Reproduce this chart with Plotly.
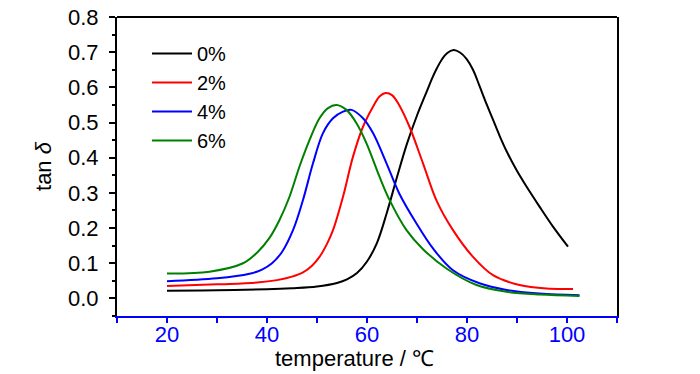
import plotly.graph_objects as go

# ---- data ----
series_names = ["0%", "2%", "4%", "6%"]
series_colors = ["#000000", "#ff0000", "#0000ff", "#008000"]

t_0 = [20, 30, 40, 45, 50, 54, 56, 58, 60, 62, 64, 66, 68, 70, 72, 73, 74, 75, 76, 77.3, 78.6,
       79.9, 81.2, 82.5, 83.9, 85.2, 86.5, 87.9, 89.9, 91.9, 94.5, 97.2, 100.2]
v_0 = [0.022, 0.023, 0.026, 0.029, 0.034, 0.044, 0.054, 0.072, 0.105, 0.158, 0.245, 0.345,
       0.44, 0.52, 0.59, 0.625, 0.655, 0.68, 0.697, 0.706, 0.699,
       0.681, 0.65, 0.604, 0.553, 0.508, 0.463, 0.419, 0.365, 0.318, 0.261, 0.204, 0.147]

t_2 = [20, 30, 38, 42, 45, 47.2, 49, 50.5, 52, 53.2, 55.2, 57.2, 59.2, 61.2, 62.5, 63.7,
       65, 66.5, 68.5, 71.2, 74, 77.2, 81.2, 85.2, 90.5, 95.9, 101.2]
v_2 = [0.035, 0.040, 0.045, 0.052, 0.062, 0.074, 0.093, 0.118, 0.155, 0.194, 0.289, 0.403,
       0.488, 0.545, 0.574, 0.584, 0.578, 0.548, 0.488, 0.384, 0.275, 0.194, 0.118, 0.066,
       0.038, 0.028, 0.027]

t_4 = [20, 30, 36.5, 39, 41, 43, 45.2, 47.2, 49.2, 51.2, 53.2, 55.2, 56.9, 59.2, 61.2,
       63.9, 66.5, 69.9, 73.2, 77.2, 82.5, 87.9, 94.5, 102.5]
v_4 = [0.049, 0.057, 0.07, 0.082, 0.10, 0.132, 0.194, 0.28, 0.384, 0.47, 0.512, 0.531,
       0.536, 0.512, 0.47, 0.384, 0.297, 0.213, 0.142, 0.08, 0.043, 0.024, 0.014, 0.009]

t_6 = [20, 28.5, 35.2, 38, 40.5, 42.5, 44.5, 46.5, 48.5, 50.5, 52.2, 53.9, 55.9, 57.9,
       59.9, 62.5, 64.5, 67.9, 71.2, 75.9, 81.9, 87.9, 94.5, 102.5]
v_6 = [0.071, 0.076, 0.10, 0.13, 0.172, 0.223, 0.289, 0.375, 0.45, 0.512, 0.541, 0.55,
       0.536, 0.498, 0.441, 0.346, 0.28, 0.194, 0.14, 0.085, 0.038, 0.019, 0.011, 0.007]

x_range = [10, 110]
y_range = [-0.05, 0.8]

FONT = "Liberation Sans, Arial, sans-serif"

fig = go.Figure()
for name, color, t, v in zip(series_names, series_colors,
                             [t_0, t_2, t_4, t_6], [v_0, v_2, v_4, v_6]):
    fig.add_trace(go.Scatter(x=t, y=v, mode="lines", name=name,
                             line=dict(color=color, width=2, shape="spline", smoothing=1.0)))

# the page body adds an 8px offset, so left/top margins are reduced by 8
fig.update_layout(
    width=700, height=374,
    margin=dict(l=109, r=91, t=9, b=66),
    paper_bgcolor="white", plot_bgcolor="white",
    font=dict(family=FONT, size=22, color="black"),
    showlegend=True,
    legend=dict(x=0.06, y=0.943, xanchor="left", yanchor="top",
                bgcolor="rgba(0,0,0,0)", borderwidth=0,
                font=dict(size=20), itemwidth=40, tracegroupgap=0),
    xaxis=dict(range=x_range, showgrid=False, zeroline=False, automargin=False,
               showline=True, linecolor="#0000ff", linewidth=2,
               ticks="outside", tickcolor="#0000ff", ticklen=5, tickwidth=1.5,
               tick0=0, dtick=20, tickfont=dict(color="#0000ff", size=22),
               ticklabelstandoff=-7, ticklabeloverflow="allow",
               minor=dict(ticks="outside", dtick=10, tick0=0, ticklen=5,
                          tickcolor="#0000ff", tickwidth=1.5)),
    yaxis=dict(range=y_range, showgrid=False, zeroline=False, automargin=False,
               showline=True, linecolor="black", linewidth=2, mirror=True,
               ticks="outside", tickcolor="black", ticklen=6, tickwidth=1.5,
               tick0=0, dtick=0.1, tickformat=".1f", ticklabelstandoff=6,
               ticklabeloverflow="allow",
               minor=dict(ticks="outside", dtick=0.05, tick0=0, ticklen=3,
                          tickcolor="black", tickwidth=1.5),
               title=dict(text="tan <i>δ</i>", font=dict(size=22), standoff=10)),
    shapes=[dict(type="line", xref="paper", yref="paper", x0=0, x1=1, y0=1, y1=1,
                 line=dict(color="black", width=2))],
    annotations=[dict(text="temperature / ℃", xref="paper", yref="paper",
                      x=0.474, y=-0.1405, xanchor="center", yanchor="middle",
                      showarrow=False, font=dict(size=22, color="black"))],
)

fig.write_html("out.html")
